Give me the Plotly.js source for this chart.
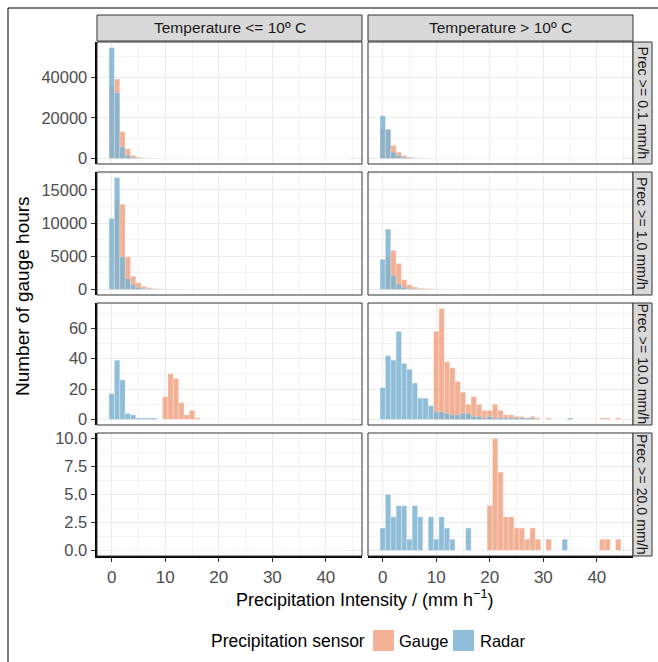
<!DOCTYPE html>
<html><head><meta charset="utf-8">
<script src="https://cdn.plot.ly/plotly-3.0.1.min.js"></script>
<style>html,body{margin:0;padding:0;background:#fff}#chart{width:658px;height:662px}</style>
</head><body><div id="chart"></div>
<script>
// bin centres (mm/h), binwidth 1
const bins = [0,1,2,3,4,5,6,7,8,9,10,11,12,13,14,15,16,17,18,19,20,21,22,23,24,25,26,27,28,29,30,31,32,33,34,35,36,37,38,39,40,41,42,43,44];
const colTitles = ['Temperature <= 10º C', 'Temperature > 10º C'];
const rowTitles = ['Prec >= 0.1 mm/h', 'Prec >= 1.0 mm/h', 'Prec >= 10.0 mm/h', 'Prec >= 20.0 mm/h'];
const sensors = ['Gauge', 'Radar'];

// Temperature <= 10 ºC
const gaugeCold_p01 = [35700,39000,13200,4800,1500,700,350,200,130,90,70,50,40,30,25,20,15,12,10,8,8,6,6,5,5,4,4,3,3,3,2,2,2,2,1,1,1,1,1,1,1,1,1,1,1];
const radarCold_p01 = [54500,32300,5700,1500,400,150,70,40,25,15,10,8,6,5,4,3,3,2,2,2,1,1,1,1,1,1,1,1,1,1,0,0,0,0,0,0,0,0,0,0,0,0,0,0,0];
const gaugeCold_p1  = [0,13480,12830,4900,1970,1000,450,250,150,100,70,50,40,30,25,20,15,12,10,8,7,6,5,4,4,3,3,3,2,2,2,2,1,1,1,1,1,1,1,1,1,1,1,1,1];
const radarCold_p1  = [10700,16860,4900,1600,750,300,130,70,40,25,15,10,8,6,5,4,3,3,2,2,2,1,1,1,1,1,1,1,1,1,0,0,0,0,0,0,0,0,0,0,0,0,0,0,0];
const gaugeCold_p10 = [0,0,0,0,0,0,0,0,0,0,15,30,27,11,3,6,1,0,0,0,0,0,0,0,0,0,0,0,0,0,0,0,0,0,0,0,0,0,0,0,0,0,0,0,0];
const radarCold_p10 = [17,39,26,4,3,1,1,1,1,0,0,0,0,0,0,0,0,0,0,0,0,0,0,0,0,0,0,0,0,0,0,0,0,0,0,0,0,0,0,0,0,0,0,0,0];
const gaugeCold_p20 = [0,0,0,0,0,0,0,0,0,0,0,0,0,0,0,0,0,0,0,0,0,0,0,0,0,0,0,0,0,0,0,0,0,0,0,0,0,0,0,0,0,0,0,0,0];
const radarCold_p20 = [0,0,0,0,0,0,0,0,0,0,0,0,0,0,0,0,0,0,0,0,0,0,0,0,0,0,0,0,0,0,0,0,0,0,0,0,0,0,0,0,0,0,0,0,0];

// Temperature > 10 ºC
const gaugeWarm_p01 = [14150,14300,6340,3100,1500,700,400,250,170,120,90,70,50,40,30,25,20,16,14,12,10,9,8,6,5,4,4,3,3,2,2,2,2,1,1,1,1,1,1,1,1,1,1,1,1];
const radarWarm_p01 = [21000,14300,3100,1460,600,250,120,70,45,30,20,15,12,9,7,6,5,4,3,3,2,2,2,2,1,1,1,1,1,1,1,1,1,1,1,1,0,0,0,0,0,0,0,0,0];
const gaugeWarm_p1  = [0,4900,5900,3900,1460,700,350,200,140,100,80,60,50,40,30,25,20,16,14,12,10,9,8,6,5,4,4,3,3,2,2,2,2,1,1,1,1,1,1,1,1,1,1,1,1];
const radarWarm_p1  = [4545,9090,2100,860,350,150,70,40,25,18,12,10,8,6,5,4,4,3,2,2,2,1,1,1,1,1,1,1,1,1,1,1,1,1,1,1,0,0,0,0,0,0,0,0,0];
const gaugeWarm_p10 = [0,0,0,0,0,0,0,0,0,0,58,73,38,34,25,18,10,15,10,6,6,10,6,3,3,2,2,1,2,1,0,1,0,0,0,0,0,0,0,0,0,1,1,0,1];
const radarWarm_p10 = [21,42,39,58,37,33,24,14,14,9,5,5,4,3,3,4,4,2,2,1,2,1,1,1,1,1,1,1,1,0,0,0,0,0,0,1,0,0,0,0,0,0,0,0,0];
const gaugeWarm_p20 = [0,0,0,0,0,0,0,0,0,0,0,0,0,0,0,0,0,0,0,0,4,10,7,3,3,2,2,1,2,1,0,1,0,0,0,0,0,0,0,0,0,1,1,0,1];
const radarWarm_p20 = [2,5,3,4,4,1,4,3,0,3,1,3,2,1,0,0,2,0,0,0,0,0,0,0,0,0,0,0,0,0,0,0,0,0,1,0,0,0,0,0,0,0,0,0,0];

const panels = [
  [[gaugeCold_p01, radarCold_p01], [gaugeWarm_p01, radarWarm_p01]],
  [[gaugeCold_p1,  radarCold_p1 ], [gaugeWarm_p1,  radarWarm_p1 ]],
  [[gaugeCold_p10, radarCold_p10], [gaugeWarm_p10, radarWarm_p10]],
  [[gaugeCold_p20, radarCold_p20], [gaugeWarm_p20, radarWarm_p20]]
];
const rowTicks = [
  {dtick: 20000, minor: 10000, fmt: 'd'},
  {dtick: 5000, minor: 2500, fmt: 'd'},
  {dtick: 20, minor: 10, fmt: 'd'},
  {dtick: 2.5, minor: 1.25, fmt: '.1f'}
];
const fillColors = ['#F2A382', '#7DB3D2'];

const W = 658, H = 662;
const colPx = [[97, 362], [368, 633]];
const rowPx = [[42, 164], [172, 295], [303, 425], [433, 556]];
const fx = p => p / W, fy = p => 1 - p / H;
const FONT = 'Liberation Sans, Arial, Helvetica, sans-serif';
const GRID = '#EBEBEB';

const traces = [];
const layout = {
  width: W, height: H, margin: {l: 0, r: 0, t: 0, b: 0},
  paper_bgcolor: '#fff', plot_bgcolor: '#fff',
  barmode: 'overlay', bargap: 0, showlegend: false,
  font: {family: FONT},
  shapes: [], annotations: []
};

const xMin = -0.5, xMax = 44.5, xPad = 0.05 * (xMax - xMin);

for (let r = 0; r < 4; r++) {
  let M = 0;
  for (let c = 0; c < 2; c++) for (const s of panels[r][c]) M = Math.max(M, ...s);
  for (let c = 0; c < 2; c++) {
    const i = r * 2 + c + 1;
    const xa = 'xaxis' + (i === 1 ? '' : i), ya = 'yaxis' + (i === 1 ? '' : i);
    const xr = 'x' + (i === 1 ? '' : i), yr = 'y' + (i === 1 ? '' : i);
    panels[r][c].forEach((vals, k) => {
      traces.push({
        type: 'bar', x: bins, y: vals, width: 1, xaxis: xr, yaxis: yr,
        name: sensors[k], marker: {color: fillColors[k], line: {color: 'rgba(255,255,255,0.45)', width: 0.6}},
        opacity: 0.85, hoverinfo: 'skip'
      });
    });
    const bottom = r === 3, left = c === 0;
    layout[xa] = {
      domain: [fx(colPx[c][0]), fx(colPx[c][1])], anchor: yr,
      range: [xMin - xPad, xMax + xPad], tick0: 0, dtick: 10,
      showgrid: true, gridcolor: GRID, gridwidth: 1.1, zeroline: false,
      minor: {dtick: 5, tick0: 0, showgrid: true, gridcolor: GRID, gridwidth: 0.6},
      showticklabels: bottom, ticks: bottom ? 'outside' : '', ticklen: 4, tickcolor: '#333', tickwidth: 1,
      tickfont: {family: FONT, size: 17, color: '#4D4D4D'},
      showline: bottom, linecolor: '#000', linewidth: 2.4, mirror: false
    };
    layout[ya] = {
      domain: [fy(rowPx[r][1]), fy(rowPx[r][0])], anchor: xr,
      range: [-0.05 * M, 1.05 * M], tick0: 0, dtick: rowTicks[r].dtick,
      tickformat: rowTicks[r].fmt, exponentformat: 'none', separatethousands: false,
      showgrid: true, gridcolor: GRID, gridwidth: 1.1, zeroline: false,
      minor: {dtick: rowTicks[r].minor, tick0: 0, showgrid: true, gridcolor: GRID, gridwidth: 0.6},
      showticklabels: left, ticks: left ? 'outside' : '', ticklen: 4, tickcolor: '#333', tickwidth: 1,
      tickfont: {family: FONT, size: 16.5, color: '#4D4D4D'},
      showline: left, linecolor: '#000', linewidth: 2.4, mirror: false
    };
    // panel border
    layout.shapes.push({type: 'rect', xref: 'paper', yref: 'paper', layer: 'above',
      x0: fx(colPx[c][0]), x1: fx(colPx[c][1]), y0: fy(rowPx[r][1]), y1: fy(rowPx[r][0]),
      line: {color: '#333', width: 1}, fillcolor: 'rgba(0,0,0,0)'});
  }
  // right strip
  layout.shapes.push({type: 'rect', xref: 'paper', yref: 'paper',
    x0: fx(633), x1: fx(652), y0: fy(rowPx[r][1]), y1: fy(rowPx[r][0]),
    line: {color: '#333', width: 1}, fillcolor: '#D9D9D9'});
  layout.annotations.push({xref: 'paper', yref: 'paper', x: fx(642.5), y: fy((rowPx[r][0] + rowPx[r][1]) / 2),
    text: rowTitles[r], textangle: 90, showarrow: false, xanchor: 'center', yanchor: 'middle',
    font: {family: FONT, size: 14.2, color: '#1A1A1A'}});
}
// top strips
for (let c = 0; c < 2; c++) {
  layout.shapes.push({type: 'rect', xref: 'paper', yref: 'paper',
    x0: fx(colPx[c][0]), x1: fx(colPx[c][1]), y0: fy(41), y1: fy(15),
    line: {color: '#333', width: 1}, fillcolor: '#D9D9D9'});
  layout.annotations.push({xref: 'paper', yref: 'paper', x: fx((colPx[c][0] + colPx[c][1]) / 2), y: fy(28),
    text: colTitles[c], showarrow: false, xanchor: 'center', yanchor: 'middle',
    font: {family: FONT, size: 15.5, color: '#1A1A1A'}});
}
// axis titles
layout.annotations.push({xref: 'paper', yref: 'paper', x: fx(364), y: fy(598),
  text: 'Precipitation Intensity / (mm h<sup>−1</sup>)', showarrow: false, xanchor: 'center', yanchor: 'middle',
  font: {family: FONT, size: 18, color: '#000'}});
layout.annotations.push({xref: 'paper', yref: 'paper', x: fx(22), y: fy(296),
  text: 'Number of gauge hours', textangle: -90, showarrow: false, xanchor: 'center', yanchor: 'middle',
  font: {family: FONT, size: 19, color: '#000'}});
// legend
layout.annotations.push({xref: 'paper', yref: 'paper', x: fx(367), y: fy(641),
  text: 'Precipitation sensor', showarrow: false, xanchor: 'right', yanchor: 'middle',
  font: {family: FONT, size: 17.5, color: '#000'}});
const keyX = [373, 453], labX = [397, 478];
sensors.forEach((s, k) => {
  layout.shapes.push({type: 'rect', xref: 'paper', yref: 'paper',
    x0: fx(keyX[k]), x1: fx(keyX[k] + 21), y0: fy(651), y1: fy(630),
    line: {width: 0}, fillcolor: fillColors[k], opacity: 0.85});
  layout.annotations.push({xref: 'paper', yref: 'paper', x: fx(labX[k]), y: fy(641),
    text: s, showarrow: false, xanchor: 'left', yanchor: 'middle',
    font: {family: FONT, size: 16.5, color: '#000'}});
});
// outer frame lines
layout.shapes.push({type: 'line', xref: 'paper', yref: 'paper', x0: fx(8), x1: fx(8), y0: 0, y1: fy(8), line: {color: '#000', width: 1}});
layout.shapes.push({type: 'line', xref: 'paper', yref: 'paper', x0: fx(8), x1: 1, y0: fy(8), y1: fy(8), line: {color: '#000', width: 1}});

Plotly.newPlot('chart', traces, layout, {staticPlot: true, displayModeBar: false});
</script>
</body></html>
